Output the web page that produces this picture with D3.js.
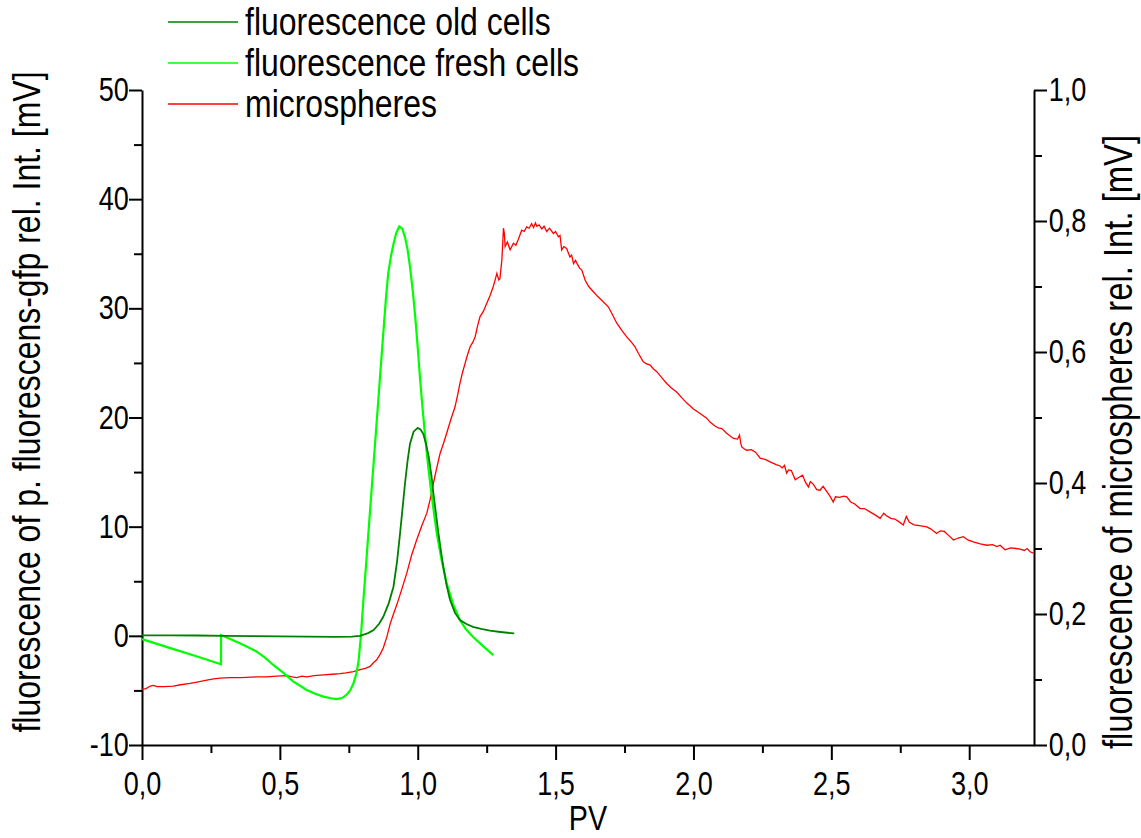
<!DOCTYPE html>
<html lang="en">
<head>
    <meta charset="utf-8">
    <title>Fluorescence vs PV</title>
    <script src="https://d3js.org/d3.v7.min.js"></script>
    <style>
        body {
            margin: 0;
            background: #ffffff;
        }
        svg text {
            font-family: "Liberation Sans", Arial, sans-serif;
            fill: #000;
        }
        .axis path, .axis line {
            stroke: #000;
            stroke-width: 2px;
        }
    </style>
</head>
<body>
    <svg id="chart" width="1141" height="838"></svg>

    <script>
        // old cells (left axis, mV)
        const oldPV  = [0, 0.1, 0.2, 0.3, 0.4, 0.5, 0.6, 0.7, 0.76, 0.79, 0.82, 0.84, 0.86, 0.875, 0.895, 0.912, 0.925, 0.936, 0.945, 0.954, 0.963, 0.972, 0.985, 1.0, 1.01, 1.02, 1.03, 1.04, 1.05, 1.057, 1.066, 1.075, 1.084, 1.093, 1.105, 1.117, 1.135, 1.153, 1.175, 1.2, 1.23, 1.262, 1.3, 1.35];
        const oldVal = [0.05, 0.05, 0.03, 0.0, -0.03, -0.05, -0.08, -0.1, -0.08, 0, 0.25, 0.53, 1.1, 1.75, 3.0, 4.5, 6.8, 9.4, 11.7, 14.0, 16.0, 17.6, 18.7, 19.05, 18.9, 18.5, 17.6, 16.4, 14.6, 13.0, 11.2, 9.4, 7.8, 6.3, 4.6, 3.3, 2.1, 1.45, 1.1, 0.83, 0.63, 0.47, 0.35, 0.22];

        // fresh cells (left axis, mV)
        const freshPV  = [0, 0.1, 0.2, 0.2866, 0.2867, 0.32, 0.355, 0.385, 0.416, 0.446, 0.476, 0.513, 0.549, 0.575, 0.597, 0.628, 0.658, 0.685, 0.706, 0.725, 0.742, 0.755, 0.767, 0.777, 0.785, 0.794, 0.803, 0.812, 0.821, 0.839, 0.857, 0.875, 0.885, 0.893, 0.903, 0.912, 0.922, 0.933, 0.944, 0.954, 0.963, 0.972, 0.982, 0.991, 1.0, 1.008, 1.017, 1.026, 1.035, 1.045, 1.057, 1.069, 1.087, 1.105, 1.128, 1.153, 1.175, 1.2, 1.235, 1.274];
        const freshVal = [-0.3, -1.1, -1.9, -2.6, 0.07, -0.3, -0.69, -1.05, -1.45, -2.0, -2.67, -3.4, -4.2, -4.6, -4.96, -5.3, -5.57, -5.72, -5.8, -5.7, -5.4, -5.0, -4.35, -3.5, -2.4, 0, 3.3, 6.3, 9.4, 15.5, 21.6, 27.7, 31.0, 33.2, 34.8, 35.9, 36.9, 37.5, 37.3, 36.5, 35.4, 33.8, 31.6, 29.2, 26.4, 23.7, 21.0, 18.5, 16.2, 14.0, 11.6, 9.4, 6.9, 4.8, 2.9, 1.45, 0.6, -0.08, -0.9, -1.76];

        // microspheres (right axis, mV)
        const microPV  = [0, 0.015, 0.03, 0.041, 0.055, 0.08, 0.114, 0.14, 0.174, 0.2, 0.235, 0.26, 0.283, 0.319, 0.36, 0.416, 0.45, 0.489, 0.525, 0.545, 0.561, 0.58, 0.597, 0.625, 0.658, 0.69, 0.718, 0.74, 0.767, 0.791, 0.81, 0.827, 0.84, 0.851, 0.863, 0.875, 0.888, 0.9, 0.912, 0.924, 0.94, 0.96, 0.978, 0.996, 1.015, 1.033, 1.045, 1.057, 1.07, 1.081, 1.093, 1.105, 1.12, 1.135, 1.145, 1.153, 1.162, 1.172, 1.18, 1.19, 1.2, 1.208, 1.217, 1.226, 1.238, 1.25, 1.262, 1.274, 1.282, 1.287, 1.294, 1.298, 1.305, 1.311, 1.314, 1.317, 1.325, 1.335, 1.347, 1.356, 1.365, 1.377, 1.386, 1.395, 1.404, 1.413, 1.42, 1.427, 1.432, 1.44, 1.45, 1.458, 1.468, 1.478, 1.492, 1.5, 1.51, 1.516, 1.522, 1.53, 1.54, 1.552, 1.558, 1.565, 1.572, 1.578, 1.587, 1.595, 1.607, 1.62, 1.637, 1.652, 1.667, 1.691, 1.705, 1.722, 1.74, 1.758, 1.775, 1.788, 1.8, 1.818, 1.83, 1.843, 1.855, 1.867, 1.885, 1.903, 1.92, 1.939, 1.958, 1.976, 2.0, 2.024, 2.048, 2.06, 2.078, 2.09, 2.103, 2.12, 2.145, 2.16, 2.167, 2.171, 2.175, 2.185, 2.193, 2.21, 2.225, 2.242, 2.26, 2.28, 2.3, 2.314, 2.322, 2.33, 2.338, 2.345, 2.355, 2.369, 2.38, 2.396, 2.405, 2.417, 2.424, 2.435, 2.447, 2.459, 2.47, 2.485, 2.495, 2.507, 2.515, 2.53, 2.545, 2.556, 2.57, 2.585, 2.604, 2.62, 2.64, 2.66, 2.677, 2.69, 2.7, 2.716, 2.73, 2.745, 2.761, 2.772, 2.783, 2.8, 2.82, 2.846, 2.86, 2.882, 2.895, 2.91, 2.925, 2.943, 2.96, 2.979, 2.995, 3.015, 3.04, 3.064, 3.085, 3.1, 3.112, 3.13, 3.15, 3.17, 3.185, 3.2, 3.21, 3.221, 3.233];
        const microVal = [0.085, 0.086, 0.090, 0.091, 0.089, 0.089, 0.090, 0.092, 0.094, 0.096, 0.099, 0.101, 0.102, 0.103, 0.103, 0.104, 0.104, 0.105, 0.106, 0.104, 0.103, 0.105, 0.104, 0.106, 0.107, 0.108, 0.109, 0.110, 0.112, 0.115, 0.117, 0.120, 0.126, 0.130, 0.138, 0.148, 0.165, 0.185, 0.200, 0.214, 0.235, 0.262, 0.290, 0.313, 0.335, 0.354, 0.375, 0.400, 0.425, 0.445, 0.460, 0.476, 0.497, 0.516, 0.535, 0.552, 0.568, 0.583, 0.595, 0.608, 0.615, 0.623, 0.640, 0.654, 0.662, 0.674, 0.686, 0.700, 0.712, 0.720, 0.710, 0.712, 0.740, 0.789, 0.781, 0.761, 0.768, 0.756, 0.766, 0.763, 0.772, 0.786, 0.784, 0.791, 0.789, 0.796, 0.790, 0.797, 0.792, 0.794, 0.788, 0.792, 0.784, 0.789, 0.781, 0.784, 0.776, 0.778, 0.756, 0.761, 0.758, 0.745, 0.748, 0.735, 0.740, 0.735, 0.728, 0.725, 0.710, 0.700, 0.692, 0.685, 0.679, 0.669, 0.658, 0.644, 0.633, 0.623, 0.615, 0.608, 0.598, 0.585, 0.582, 0.580, 0.574, 0.570, 0.561, 0.552, 0.545, 0.539, 0.530, 0.522, 0.513, 0.506, 0.499, 0.493, 0.487, 0.484, 0.483, 0.476, 0.468, 0.467, 0.473, 0.462, 0.455, 0.452, 0.450, 0.451, 0.447, 0.438, 0.436, 0.432, 0.428, 0.426, 0.423, 0.427, 0.415, 0.420, 0.419, 0.405, 0.408, 0.412, 0.402, 0.394, 0.402, 0.398, 0.390, 0.389, 0.395, 0.386, 0.380, 0.371, 0.379, 0.378, 0.380, 0.379, 0.371, 0.368, 0.361, 0.361, 0.356, 0.351, 0.346, 0.354, 0.350, 0.346, 0.345, 0.341, 0.336, 0.349, 0.340, 0.336, 0.335, 0.333, 0.330, 0.323, 0.327, 0.326, 0.320, 0.313, 0.316, 0.318, 0.313, 0.310, 0.307, 0.305, 0.306, 0.303, 0.305, 0.298, 0.301, 0.300, 0.299, 0.297, 0.300, 0.295, 0.293];

        const xTicks = [0, 0.5, 1.0, 1.5, 2.0, 2.5, 3.0];
        const yLeftTicks = [-10, 0, 10, 20, 30, 40, 50];
        const yRightTicks = [0, 0.2, 0.4, 0.6, 0.8, 1.0];

        const seriesNames = ["fluorescence old cells", "fluorescence fresh cells", "microspheres"];
        const seriesColors = ["#008000", "#00ff00", "#ff0000"];

        const margin = { top: 90, right: 107, bottom: 93, left: 142 };
        const width = 1141, height = 838;
        const squeeze = 0.82; // the original lettering is condensed
        const svg = d3.select("#chart");

        svg.append("rect").attr("width", width).attr("height", height).attr("fill", "#fff");

        const x = d3.scaleLinear().domain([0, 3.235]).range([margin.left, width - margin.right]);
        const yL = d3.scaleLinear().domain([-10, 50]).range([height - margin.bottom, margin.top]);
        const yR = d3.scaleLinear().domain([0, 1]).range([height - margin.bottom, margin.top]);

        const comma = d => d3.format(".1f")(d).replace(".", ",");

        // minor ticks first, then the major axis on top
        const xAxisMinor = d3.axisBottom(x).tickValues(d3.range(0.25, 3.24, 0.5)).tickSize(8).tickFormat("");
        const xAxis = d3.axisBottom(x).tickValues(xTicks).tickSize(15).tickSizeOuter(0).tickPadding(12).tickFormat(comma);
        const yLMinor = d3.axisLeft(yL).tickValues(d3.range(-5, 50, 10)).tickSize(8).tickFormat("");
        const yLAxis = d3.axisLeft(yL).tickValues(yLeftTicks).tickSize(13).tickSizeOuter(0).tickPadding(3).tickFormat(d => String(d));
        const yRMinor = d3.axisRight(yR).tickValues(d3.range(0.1, 1.0, 0.2)).tickSize(8).tickFormat("");
        const yRAxis = d3.axisRight(yR).tickValues(yRightTicks).tickSize(13).tickSizeOuter(0).tickPadding(5).tickFormat(comma);

        const gx = svg.append("g").attr("class", "axis").attr("transform", `translate(0,${height - margin.bottom})`);
        gx.append("g").call(xAxisMinor).select(".domain").remove();
        gx.append("g").call(xAxis);

        const gl = svg.append("g").attr("class", "axis").attr("transform", `translate(${margin.left},0)`);
        gl.append("g").call(yLMinor).select(".domain").remove();
        gl.append("g").call(yLAxis);

        const gr = svg.append("g").attr("class", "axis").attr("transform", `translate(${width - margin.right},0)`);
        gr.append("g").call(yRMinor).select(".domain").remove();
        gr.append("g").call(yRAxis);

        svg.selectAll(".axis text")
            .style("font-size", "33px")
            .attr("transform", `scale(${squeeze},1)`);

        // curves
        const lineL = d3.line().x(d => x(d[0])).y(d => yL(d[1]));
        const lineR = d3.line().x(d => x(d[0])).y(d => yR(d[1]));

        svg.append("path")
            .datum(d3.zip(microPV, microVal))
            .attr("fill", "none").attr("stroke", seriesColors[2]).attr("stroke-width", 1.3)
            .attr("d", lineR);

        svg.append("path")
            .datum(d3.zip(freshPV, freshVal))
            .attr("fill", "none").attr("stroke", seriesColors[1]).attr("stroke-width", 2.2)
            .attr("d", lineL);

        svg.append("path")
            .datum(d3.zip(oldPV, oldVal))
            .attr("fill", "none").attr("stroke", seriesColors[0]).attr("stroke-width", 1.8)
            .attr("d", lineL);

        // axis titles
        svg.append("text")
            .attr("transform", `translate(40,402) rotate(-90) scale(${squeeze},1)`)
            .attr("text-anchor", "middle")
            .style("font-size", "39px")
            .text("fluorescence of p. fluorescens-gfp rel. Int. [mV]");

        svg.append("text")
            .attr("transform", `translate(1132,442) rotate(-90) scale(${squeeze},1)`)
            .attr("text-anchor", "middle")
            .style("font-size", "40px")
            .text("fluorescence of microspheres rel. Int. [mV]");

        svg.append("text")
            .attr("transform", `translate(${(margin.left + width - margin.right) / 2},830) scale(${squeeze},1)`)
            .attr("text-anchor", "middle")
            .style("font-size", "35px")
            .text("PV");

        // legend
        const legend = svg.append("g").attr("transform", "translate(168,22)");
        seriesNames.forEach((name, i) => {
            const row = legend.append("g").attr("transform", `translate(0,${i * 41})`);
            row.append("line")
                .attr("x1", 0).attr("x2", 70)
                .attr("stroke", seriesColors[i]).attr("stroke-width", 1.5);
            row.append("text")
                .attr("transform", `translate(77,13) scale(${squeeze},1)`)
                .style("font-size", "39px")
                .text(name);
        });
    </script>
</body>
</html>
